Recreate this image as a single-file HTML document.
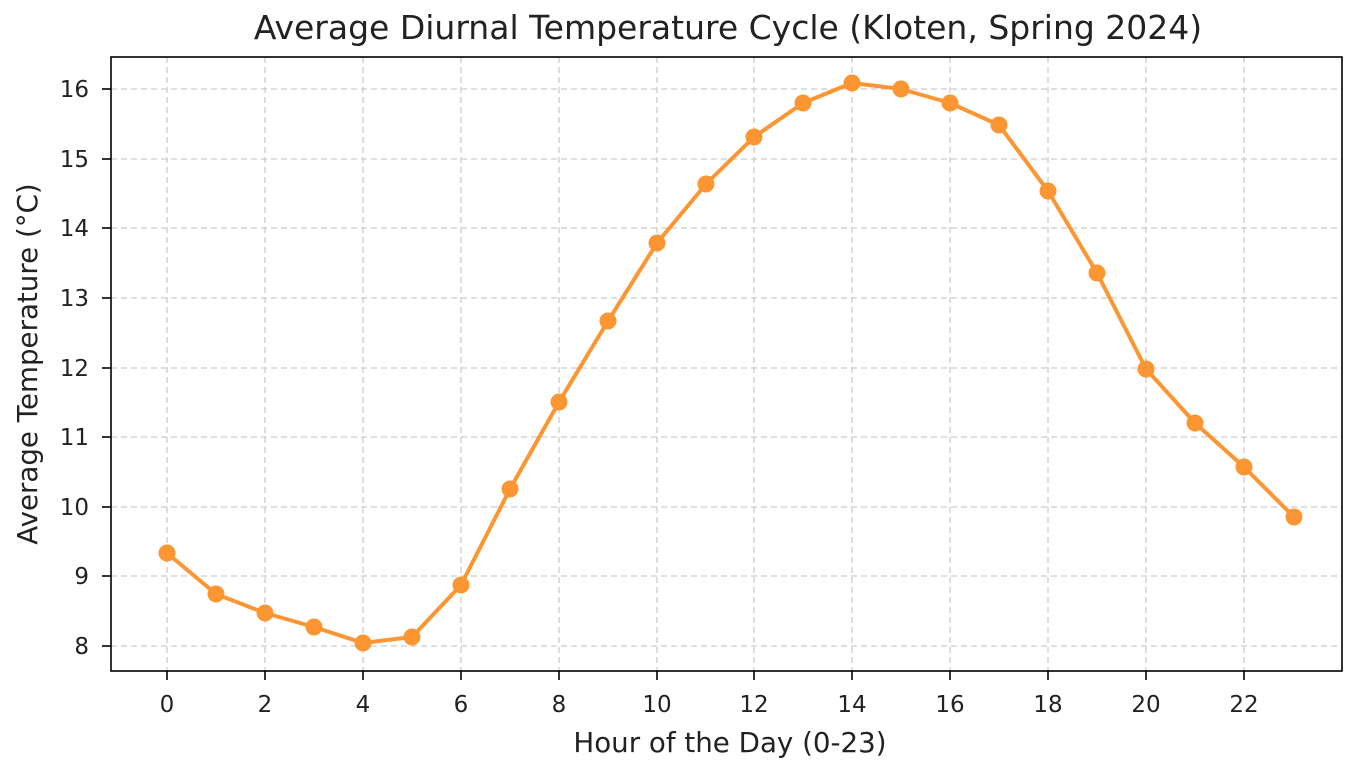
<!DOCTYPE html>
<html><head><meta charset="utf-8"><style>
html,body{margin:0;padding:0;background:#fff;}
svg{display:block;font-family:"DejaVu Sans","Liberation Sans",sans-serif;}
</style></head><body>
<svg width="1362" height="774" viewBox="0 0 1362 774" xmlns="http://www.w3.org/2000/svg">
<rect width="1362" height="774" fill="#fff"/>
<g stroke="#cccccc" stroke-width="1.3" stroke-dasharray="6,4">
<line x1="167" y1="57" x2="167" y2="671"/>
<line x1="265" y1="57" x2="265" y2="671"/>
<line x1="363" y1="57" x2="363" y2="671"/>
<line x1="461" y1="57" x2="461" y2="671"/>
<line x1="559" y1="57" x2="559" y2="671"/>
<line x1="657" y1="57" x2="657" y2="671"/>
<line x1="754" y1="57" x2="754" y2="671"/>
<line x1="852" y1="57" x2="852" y2="671"/>
<line x1="950" y1="57" x2="950" y2="671"/>
<line x1="1048" y1="57" x2="1048" y2="671"/>
<line x1="1146" y1="57" x2="1146" y2="671"/>
<line x1="1244" y1="57" x2="1244" y2="671"/>
<line x1="111" y1="89" x2="1342" y2="89"/>
<line x1="111" y1="159" x2="1342" y2="159"/>
<line x1="111" y1="228" x2="1342" y2="228"/>
<line x1="111" y1="298" x2="1342" y2="298"/>
<line x1="111" y1="368" x2="1342" y2="368"/>
<line x1="111" y1="437" x2="1342" y2="437"/>
<line x1="111" y1="507" x2="1342" y2="507"/>
<line x1="111" y1="576" x2="1342" y2="576"/>
<line x1="111" y1="646" x2="1342" y2="646"/>
</g>
<rect x="111" y="57" width="1231" height="614" fill="none" stroke="#000" stroke-width="1.6"/>
<g stroke="#000" stroke-width="1.6">
<line x1="167" y1="671" x2="167" y2="680"/><line x1="265" y1="671" x2="265" y2="680"/>
<line x1="363" y1="671" x2="363" y2="680"/><line x1="461" y1="671" x2="461" y2="680"/>
<line x1="559" y1="671" x2="559" y2="680"/><line x1="657" y1="671" x2="657" y2="680"/>
<line x1="754" y1="671" x2="754" y2="680"/><line x1="852" y1="671" x2="852" y2="680"/>
<line x1="950" y1="671" x2="950" y2="680"/><line x1="1048" y1="671" x2="1048" y2="680"/>
<line x1="1146" y1="671" x2="1146" y2="680"/><line x1="1244" y1="671" x2="1244" y2="680"/>
<line x1="102" y1="89" x2="111" y2="89"/><line x1="102" y1="159" x2="111" y2="159"/>
<line x1="102" y1="228" x2="111" y2="228"/><line x1="102" y1="298" x2="111" y2="298"/>
<line x1="102" y1="368" x2="111" y2="368"/><line x1="102" y1="437" x2="111" y2="437"/>
<line x1="102" y1="507" x2="111" y2="507"/><line x1="102" y1="576" x2="111" y2="576"/>
<line x1="102" y1="646" x2="111" y2="646"/>
</g>
<g font-size="23" fill="#222" text-anchor="middle">
<text x="167" y="712">0</text><text x="265" y="712">2</text><text x="363" y="712">4</text>
<text x="461" y="712">6</text><text x="559" y="712">8</text><text x="657" y="712">10</text>
<text x="754" y="712">12</text><text x="852" y="712">14</text><text x="950" y="712">16</text>
<text x="1048" y="712">18</text><text x="1146" y="712">20</text><text x="1244" y="712">22</text>
</g>
<g font-size="23" fill="#222" text-anchor="end">
<text x="89" y="97">16</text><text x="89" y="167">15</text><text x="89" y="236">14</text>
<text x="89" y="306">13</text><text x="89" y="376">12</text><text x="89" y="445">11</text>
<text x="89" y="515">10</text><text x="89" y="584">9</text><text x="89" y="654">8</text>
</g>
<text x="730" y="752" font-size="27.7" text-anchor="middle" fill="#222">Hour of the Day (0-23)</text>
<text transform="translate(37,364) rotate(-90)" font-size="27.7" text-anchor="middle" fill="#222">Average Temperature (°C)</text>
<text x="728" y="39" font-size="33" text-anchor="middle" fill="#222">Average Diurnal Temperature Cycle (Kloten, Spring 2024)</text>
<g fill="#fb9632" stroke="none">
<polyline fill="none" stroke="#fb9632" stroke-width="4" stroke-linejoin="round" points="167,553 216,594 265,613 314,627 363,643 412,637 461,585 510,489 559,402 608,321 657,243 706,184 754,137 803,103 852,83 901,89 950,103 999,125 1048,191 1097,273 1146,369 1195,423 1244,467 1294,517"/>
<circle cx="167" cy="553" r="8.5"/><circle cx="216" cy="594" r="8.5"/><circle cx="265" cy="613" r="8.5"/>
<circle cx="314" cy="627" r="8.5"/><circle cx="363" cy="643" r="8.5"/><circle cx="412" cy="637" r="8.5"/>
<circle cx="461" cy="585" r="8.5"/><circle cx="510" cy="489" r="8.5"/><circle cx="559" cy="402" r="8.5"/>
<circle cx="608" cy="321" r="8.5"/><circle cx="657" cy="243" r="8.5"/><circle cx="706" cy="184" r="8.5"/>
<circle cx="754" cy="137" r="8.5"/><circle cx="803" cy="103" r="8.5"/><circle cx="852" cy="83" r="8.5"/>
<circle cx="901" cy="89" r="8.5"/><circle cx="950" cy="103" r="8.5"/><circle cx="999" cy="125" r="8.5"/>
<circle cx="1048" cy="191" r="8.5"/><circle cx="1097" cy="273" r="8.5"/><circle cx="1146" cy="369" r="8.5"/>
<circle cx="1195" cy="423" r="8.5"/><circle cx="1244" cy="467" r="8.5"/><circle cx="1294" cy="517" r="8.5"/>
</g>
</svg>
</body></html>
